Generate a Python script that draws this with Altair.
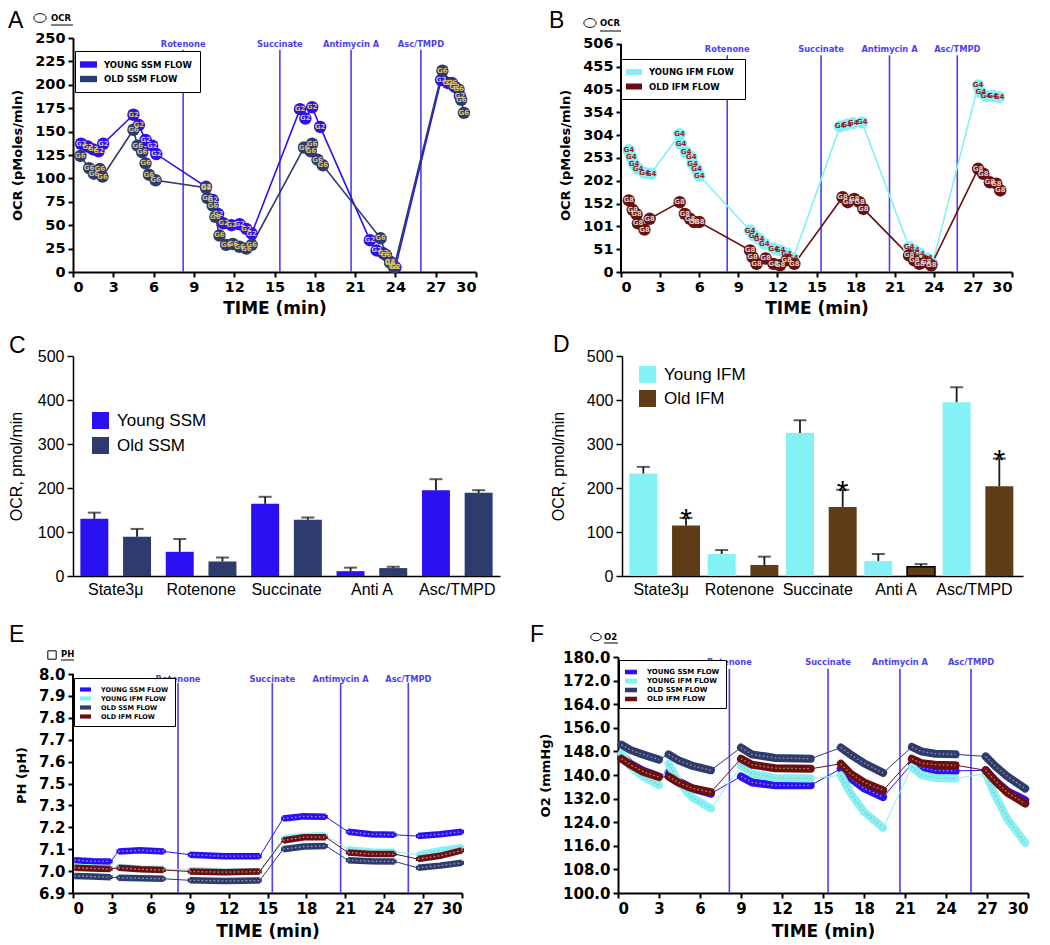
import altair as alt
import pandas as pd

SANS = "Liberation Sans"
BOLD = "DejaVu Sans"

C_YS = "#2b10f2"
C_OS = "#2d3b6e"
C_YI = "#84f1f7"
C_OI = "#6b0f10"
C_OI_BAR = "#603b18"
C_INJ = "#4b3ff0"

RECT_A = "M-1.6,-0.6L1.6,-0.6L1.6,0.6L-1.6,0.6Z"
RECT_E = "M-1,-0.38L1,-0.38L1,0.38L-1,0.38Z"
ELLIPSE = "M-1,0A1,0.72,0,1,1,1,0A1,0.72,0,1,1,-1,0Z"

INJ_NAMES = ["Rotenone", "Succinate", "Antimycin A", "Asc/TMPD"]
TIME_TICKS = [0, 3, 6, 9, 12, 15, 18, 21, 24, 27, 30]

# ---------------- Panel A : OCR, SSM ----------------
A_NAMES = ["YOUNG SSM FLOW", "OLD SSM FLOW"]
A_TAGS = ["G2", "G6"]
A_T_YOUNG = [0.6, 1.1, 1.5, 1.9, 2.25, 4.5, 4.9, 5.4, 5.9, 6.2,
             9.9, 10.4, 10.8, 11.2, 11.8, 12.4, 12.9, 13.3,
             16.9, 17.3, 17.8, 18.4, 22.1, 22.6, 23.1, 23.6, 24.0,
             27.4, 27.9, 28.4, 28.8]
A_YOUNG = [137, 134, 131, 129, 137, 168, 157, 141, 135, 126,
           91, 77, 62, 52, 50, 51, 46, 41,
           174, 164, 176, 155, 34, 23, 20, 11, 5,
           205, 202, 198, 188]
A_T_OLD = [0.55, 1.2, 1.55, 2.0, 2.2, 4.5, 4.8, 5.15, 5.4, 5.65, 6.15,
           9.9, 10.0, 10.4, 10.6, 10.9, 11.4, 11.9, 12.4, 12.9, 13.3,
           17.2, 17.7, 17.8, 18.2, 18.6, 22.9, 23.3, 23.6, 23.9,
           27.5, 28.2, 28.7, 28.9, 29.1]
A_OLD = [124, 111, 105, 110, 102, 152, 135, 128, 116, 104, 98,
         90, 79, 71, 59, 39, 29, 30, 27, 25, 29,
         133, 129, 137, 120, 114, 36, 18, 10, 5,
         215, 202, 195, 184, 170]
A_INJ_T = [8.2, 15.4, 20.7, 25.9]
A_YTICKS = [0, 25, 50, 75, 100, 125, 150, 175, 200, 225, 250]

# ---------------- Panel B : OCR, IFM ----------------
B_NAMES = ["YOUNG  IFM FLOW", "OLD IFM FLOW"]
B_TAGS = ["G4", "G8"]
B_T_YOUNG = [0.6, 0.8, 1.0, 1.3, 1.8, 2.3, 4.5, 4.6, 5.0, 5.4, 5.5, 5.8, 6.0,
             9.9, 10.2, 10.6, 11.0, 11.7, 12.2, 12.7, 13.2,
             16.8, 17.3, 17.8, 18.5, 22.1, 22.5, 22.9, 23.5, 23.9,
             27.4, 27.6, 28.0, 28.5, 29.0]
B_YOUNG = [270, 255, 240, 229, 220, 218, 306, 284, 266, 255, 240, 229, 214,
           92, 81, 74, 63, 52, 48, 41, 30,
           323, 327, 330, 332, 55, 48, 41, 30, 18,
           414, 399, 391, 391, 388]
B_T_OLD = [0.6, 0.9, 1.2, 1.3, 1.8, 2.2, 4.5, 4.9, 5.3, 5.6, 6.0,
           9.9, 10.1, 10.4, 11.1, 11.7, 12.2, 12.7, 13.3,
           17.0, 17.4, 17.9, 18.3, 18.6, 22.1, 22.5, 22.9, 23.4, 23.8,
           27.4, 27.8, 28.3, 28.8, 29.1]
B_OLD = [159, 138, 128, 108, 94, 118, 155, 129, 118, 111, 111,
         48, 33, 18, 30, 18, 15, 26, 18,
         166, 155, 162, 155, 140, 37, 26, 18, 22, 15,
         229, 218, 199, 196, 181]
B_INJ_T = [8.15, 15.35, 20.6, 25.8]
B_YTICKS = [0, 51, 101, 152, 202, 253, 304, 354, 405, 455, 506]

# ---------------- Panels C, D : bar summaries ----------------
CATS = ["State3μ", "Rotenone", "Succinate", "Anti A", "Asc/TMPD"]
C_NAMES = ["Young SSM", "Old SSM"]
C_YOUNG = [130, 55, 164, 11, 195]
C_YOUNG_ERR = [14, 29, 16, 8, 25]
C_OLD = [89, 33, 128, 18, 189]
C_OLD_ERR = [18, 9, 5, 3, 6]
C_STARS = [0, 0, 0, 0, 0]

D_NAMES = ["Young IFM", "Old IFM"]
D_YOUNG = [233, 50, 325, 34, 395]
D_YOUNG_ERR = [15, 9, 29, 16, 34]
D_OLD = [115, 25, 157, 21, 204]
D_OLD_ERR = [17, 19, 39, 6, 63]
D_STARS = [1, 0, 1, 0, 1]
BAR_YTICKS = [0, 100, 200, 300, 400, 500]

# ---------------- Panels E, F : pH and O2 ----------------
FLOW_NAMES = ["YOUNG SSM FLOW", "YOUNG IFM FLOW", "OLD SSM FLOW", "OLD IFM FLOW"]
FLOW_COLORS = [C_YS, C_YI, C_OS, C_OI]

E_CYCLE_T = [[0.1, 1.5, 2.9], [3.5, 5.2, 7.0], [9.0, 11.7, 14.4],
             [16.2, 17.8, 19.5], [21.2, 23.0, 24.8], [26.6, 28.3, 30.0]]
E_YS = [[7.05, 7.045, 7.044], [7.09, 7.095, 7.09], [7.075, 7.068, 7.068],
        [7.24, 7.25, 7.248], [7.18, 7.168, 7.166], [7.16, 7.168, 7.18]]
E_YI = [[7.02, 7.015, 7.012], [7.02, 7.012, 7.01], [7.005, 6.998, 7.0],
        [7.15, 7.16, 7.165], [7.1, 7.09, 7.088], [7.075, 7.095, 7.11]]
E_OS = [[6.978, 6.975, 6.972], [6.97, 6.967, 6.965], [6.958, 6.955, 6.957],
        [7.1, 7.112, 7.115], [7.05, 7.045, 7.044], [7.015, 7.025, 7.038]]
E_OI = [[7.015, 7.012, 7.01], [7.015, 7.008, 7.005], [6.998, 6.995, 6.998],
        [7.14, 7.155, 7.155], [7.085, 7.078, 7.078], [7.055, 7.07, 7.095]]
E_INJ_T = [8.1, 15.37, 20.64, 25.86]
E_YTICKS = [6.9, 7.0, 7.1, 7.2, 7.3, 7.4, 7.5, 7.6, 7.7, 7.8, 7.9]
E_YLABELS = ["6.9", "7.0", "7.1", "7.2", "7.3", "7.5", "7.6", "7.7", "7.8", "7.9", "8.0"]

F_CYCLE_T = [[0.25, 0.9, 1.8, 3.0], [3.7, 4.4, 5.4, 6.8], [9.0, 9.8, 11.5, 14.1],
             [16.3, 17.0, 18.0, 19.4], [21.5, 22.2, 23.2, 24.7], [26.9, 27.6, 28.5, 29.8]]
F_YS = [[146.7, 143.8, 141.5, 139.5], [141, 138, 135.5, 133.7], [139.5, 137.5, 136.5, 136.5],
        [142.1, 139, 135.5, 132.5], [143.8, 142.5, 141.5, 141.4], [141.6, 138, 134.5, 131.4]]
F_YI = [[147.2, 143, 139.5, 136.5], [143.8, 138, 132.5, 128.6], [143.3, 140.5, 139, 138.8],
        [139.9, 134, 127.5, 122.1], [142.7, 140, 139, 138.8], [140.5, 133, 125, 117]]
F_OS = [[150.3, 148.5, 147, 145.2], [147, 145, 143.2, 141.6], [149.3, 147, 145.8, 145.5],
        [149.3, 147, 144, 140.7], [149.5, 148, 147.2, 147], [146.3, 143, 139.5, 135.4]]
F_OI = [[145.5, 143.5, 141.2, 139.3], [139.5, 137.5, 135.5, 134.2], [145.5, 143.5, 142.3, 142.1],
        [143.8, 140.5, 137.5, 134.8], [145.5, 144, 143.5, 143.3], [141.6, 138, 134, 130.3]]
F_INJ_T = [8.15, 15.37, 20.63, 25.83]
F_YTICKS = [100, 108, 116, 124, 132, 140, 148, 156, 164, 172, 180]


def bold_axis(title, values, title_size, domain=True, label_expr=None,
              title_pad=6, label_size=14.5):
    kw = dict(title=title, values=values, grid=False,
              labelFont=BOLD, labelFontWeight="bold", labelFontSize=label_size, labelColor="black",
              titleFont=BOLD, titleFontWeight="bold", titleFontSize=title_size, titleColor="black",
              domain=domain, domainColor="black", domainWidth=2,
              tickColor="black", tickWidth=2, tickSize=5, labelPadding=3, titlePadding=title_pad)
    if label_expr:
        kw["labelExpr"] = label_expr
    return alt.Axis(**kw)


def inj_layers(times, y0, ytop, ylab, fs, ax, ay, sx, sy):
    df = pd.DataFrame({"t": times, "name": INJ_NAMES})
    xs = alt.X("t:Q", axis=ax, scale=sx)
    rule = alt.Chart(df).mark_rule(color=C_INJ, strokeWidth=1.6).encode(
        x=xs, y=alt.YDatum(y0, axis=ay, scale=sy), y2=alt.Y2Datum(ytop))
    lab = alt.Chart(df).mark_text(color=C_INJ, font=BOLD, fontWeight="bold", fontSize=fs,
                                  baseline="middle").encode(
        x=xs, y=alt.YDatum(ylab, axis=ay, scale=sy), text="name:N")
    return [rule, lab]


def axis_line(y0, ytop, ay, sy):
    return alt.Chart(pd.DataFrame({"k": [0]})).mark_rule(color="black", strokeWidth=2).encode(
        x=alt.value(0), y=alt.YDatum(y0, axis=ay, scale=sy), y2=alt.Y2Datum(ytop))


def deco(letter, lx, ly, shape=None, sx=0, sy=0, ssize=0, txt=None, tx=0, ty=0, uy=0, uw=0):
    b = alt.Chart(pd.DataFrame({"k": [0]}))
    out = [b.mark_text(text=letter, font=SANS, fontSize=23, align="left", baseline="alphabetic",
                       color="black").encode(x=alt.value(lx), y=alt.value(ly))]
    if shape:
        out.append(b.mark_point(shape=shape, filled=False, size=ssize, color="black",
                                strokeWidth=1, opacity=1).encode(x=alt.value(sx), y=alt.value(sy)))
        out.append(b.mark_text(text=txt, font=BOLD, fontWeight="bold", fontSize=8.5, align="left",
                               baseline="alphabetic", color="black").encode(x=alt.value(tx), y=alt.value(ty)))
        out.append(b.mark_rule(color="black", strokeWidth=1).encode(
            x=alt.value(tx), x2=alt.value(tx + uw), y=alt.value(uy)))
    return out


def small_legend(x, y, sym, size, fs, row_pad, pad):
    return alt.Legend(orient="none", legendX=x, legendY=y, title=None, strokeColor="black",
                      fillColor="white", padding=pad, symbolType=sym, symbolSize=size,
                      symbolStrokeWidth=0, symbolOpacity=1, labelFont=BOLD, labelFontWeight="bold",
                      labelFontSize=fs, labelColor="black", rowPadding=row_pad, labelOffset=10)


def marker_panel(names, colors, tags, tag_colors, ts, vs, yticks, ydom, ytitle, inj_t, inj_top,
                 inj_lab, legend, axis_top, width, height, decos):
    rows = []
    for n, tg, tt, vv in zip(names, tags, ts, vs):
        for t, v in zip(tt, vv):
            rows.append({"s": n, "tag": tg, "t": t, "v": v})
    df = pd.DataFrame(rows)
    cs = alt.Scale(domain=names, range=colors)
    ax = bold_axis("TIME (min)", TIME_TICKS, 17, title_pad=7)
    ay = bold_axis(ytitle, yticks, 13, domain=axis_top is None, title_pad=10)
    sx = alt.Scale(domain=[0, 30], nice=False, zero=False)
    sy = alt.Scale(domain=ydom, nice=False, zero=False)
    X = alt.X("t:Q", scale=sx, axis=ax)
    Y = alt.Y("v:Q", scale=sy, axis=ay)
    layers = [alt.Chart(df).mark_circle(size=1, opacity=1).encode(
        x=X, y=Y, color=alt.Color("s:N", scale=cs, legend=legend))]
    layers += inj_layers(inj_t, ydom[0], inj_top, inj_lab, 8.3, ax, ay, sx, sy)
    if axis_top is not None:
        layers.append(axis_line(ydom[0], axis_top, ay, sy))
    layers.append(alt.Chart(df).mark_line(strokeWidth=1.6).encode(
        x=X, y=Y, color=alt.Color("s:N", scale=cs, legend=None)))
    layers.append(alt.Chart(df).mark_circle(size=155, opacity=1).encode(
        x=X, y=Y, color=alt.Color("s:N", scale=cs, legend=None)))
    for n, tc in zip(names, tag_colors):
        layers.append(alt.Chart(df).transform_filter(alt.datum.s == n).mark_text(
            color=tc, font=BOLD, fontWeight="bold", fontSize=7).encode(x=X, y=Y, text="tag:N"))
    layers += decos
    return alt.layer(*layers).properties(width=width, height=height)


def flow_panel(cyc_t, vals, yticks, ydom, ytitle, label_expr, inj_t, inj_top, inj_lab, legend,
               axis_top, band_w, cap, shape, dot_color, width, height, decos):
    rows = []
    for n, vv in zip(FLOW_NAMES, vals):
        for ci, (tt, cv) in enumerate(zip(cyc_t, vv)):
            for t, v in zip(tt, cv):
                rows.append({"s": n, "c": ci, "t": t, "v": v})
    df = pd.DataFrame(rows)
    cs = alt.Scale(domain=FLOW_NAMES, range=FLOW_COLORS)
    ax = bold_axis("TIME (min)", TIME_TICKS, 17, title_pad=7, label_size=15)
    ay = bold_axis(ytitle, yticks, 13, domain=axis_top is None, title_pad=10,
                   label_expr=label_expr, label_size=15)
    sx = alt.Scale(domain=[0, 30], nice=False, zero=False)
    sy = alt.Scale(domain=ydom, nice=False, zero=False)
    X = alt.X("t:Q", scale=sx, axis=ax)
    Y = alt.Y("v:Q", scale=sy, axis=ay)
    layers = [alt.Chart(df).mark_point(filled=True, shape=shape, size=16, opacity=1).encode(
        x=X, y=Y, color=alt.Color("s:N", scale=cs, legend=legend))]
    layers += inj_layers(inj_t, ydom[0], inj_top, inj_lab, 8.3, ax, ay, sx, sy)
    if axis_top is not None:
        layers.append(axis_line(ydom[0], axis_top, ay, sy))
    for n in FLOW_NAMES:
        sub = alt.Chart(df).transform_filter(alt.datum.s == n)
        layers.append(sub.mark_line(strokeWidth=1).encode(
            x=X, y=Y, color=alt.Color("s:N", scale=cs, legend=None)))
        layers.append(sub.mark_line(strokeWidth=band_w, strokeCap=cap).encode(
            x=X, y=Y, detail="c:N", color=alt.Color("s:N", scale=cs, legend=None)))
        layers.append(sub.mark_line(strokeWidth=1.3, strokeDash=[1.5, 2.5], color=dot_color,
                                    opacity=0.85).encode(x=X, y=Y, detail="c:N"))
    layers += decos
    return alt.layer(*layers).properties(width=width, height=height)


def bar_panel(names, colors, young, yerr, old, oerr, stars, outline, legend, width, x_po,
              title_pad, decos):
    rows = []
    for i, cat in enumerate(CATS):
        rows.append({"cat": cat, "grp": "Young", "name": names[0], "val": young[i], "err": yerr[i],
                     "star": 0, "ol": 0})
        rows.append({"cat": cat, "grp": "Old", "name": names[1], "val": old[i], "err": oerr[i],
                     "star": stars[i], "ol": outline[i]})
    base = alt.Chart(pd.DataFrame(rows)).transform_calculate(top="datum.val + datum.err")
    axx = alt.Axis(title=None, labelAngle=0, ticks=False, domainColor="black", domainWidth=1.5,
                   labelFont=SANS, labelFontSize=16, labelColor="black", labelPadding=5, grid=False)
    axy = alt.Axis(title="OCR, pmol/min", values=BAR_YTICKS, grid=False, labelFont=SANS,
                   labelFontSize=16, labelColor="black", titleFont=SANS, titleFontSize=16,
                   titleFontWeight="normal", titleColor="black", domainColor="black",
                   domainWidth=1.5, tickColor="black", tickWidth=1.5, tickSize=6,
                   labelPadding=3, titlePadding=title_pad)
    X = alt.X("cat:N", sort=CATS, scale=alt.Scale(domain=CATS, paddingInner=0, paddingOuter=x_po, align=0),
              axis=axx)
    XO = alt.XOffset("grp:N", sort=["Young", "Old"],
                     scale=alt.Scale(domain=["Young", "Old"], paddingInner=0.345, paddingOuter=0.1725))
    sy = alt.Scale(domain=[0, 500], nice=False)
    bars = base.mark_bar().encode(
        x=X, xOffset=XO, y=alt.Y("val:Q", scale=sy, axis=axy),
        color=alt.Color("name:N", scale=alt.Scale(domain=names, range=colors), legend=legend),
        stroke=alt.condition(alt.datum.ol == 1, alt.value("black"), alt.value("transparent")),
        strokeWidth=alt.condition(alt.datum.ol == 1, alt.value(1.5), alt.value(0)))
    whisk = base.mark_rule(color="#1a1a1a", strokeWidth=1.8).encode(
        x=X, xOffset=XO, y=alt.Y("val:Q", scale=sy, axis=axy), y2="top:Q")
    cap = base.mark_tick(color="#1a1a1a", thickness=2, size=13).encode(
        x=X, xOffset=XO, y=alt.Y("top:Q", scale=sy, axis=axy))
    star = base.transform_filter(alt.datum.star == 1).mark_text(
        text="*", font=SANS, fontSize=30, baseline="alphabetic", dy=11, color="black").encode(
        x=X, xOffset=XO, y=alt.Y("top:Q", scale=sy, axis=axy))
    return alt.layer(bars, whisk, cap, star, *decos).properties(width=width, height=220)


# ---------------- build panels ----------------
panel_a = marker_panel(
    A_NAMES, [C_YS, C_OS], A_TAGS, ["#d8c070", "#d8c070"], [A_T_YOUNG, A_T_OLD], [A_YOUNG, A_OLD],
    A_YTICKS, [0, 250], "OCR (pMoles/mln)", A_INJ_T, 237.5, 243,
    small_legend(2, 13, RECT_A, 113, 8.5, 4.5, 8), None, 403, 234,
    deco("A", -65, -10, ELLIPSE, -33, -20, 150, "OCR", -22, -17, -13, 22))

panel_b = marker_panel(
    B_NAMES, [C_YI, C_OI], B_TAGS, ["#a01818", "#cfcfcf"], [B_T_YOUNG, B_T_OLD], [B_YOUNG, B_OLD],
    B_YTICKS, [0, 519.3], "OCR (pMoles/mln)", B_INJ_T, 481, 492,
    small_legend(0, 21, RECT_A, 100, 8.5, 4.5, 8), 506, 391, 234,
    deco("B", -72, -10, ELLIPSE, -31, -15, 150, "OCR", -21, -12, -7, 21))

panel_c = bar_panel(
    C_NAMES, [C_YS, C_OS], C_YOUNG, C_YOUNG_ERR, C_OLD, C_OLD_ERR, C_STARS, [0, 0, 0, 0, 0],
    alt.Legend(orient="none", legendX=19, legendY=56, title=None, symbolType="square", symbolSize=289,
               symbolStrokeWidth=0, labelFont=SANS, labelFontSize=17, labelColor="black",
               rowPadding=7, labelOffset=8, padding=0),
    427, 0, 13, deco("C", -64, -3))

panel_d = bar_panel(
    D_NAMES, [C_YI, C_OI_BAR], D_YOUNG, D_YOUNG_ERR, D_OLD, D_OLD_ERR, D_STARS, [0, 0, 0, 1, 0],
    alt.Legend(orient="none", legendX=17, legendY=10, title=None, symbolType="square", symbolSize=289,
               symbolStrokeWidth=0, labelFont=SANS, labelFontSize=17, labelColor="black",
               rowPadding=6, labelOffset=8, padding=0),
    401, 0.06, 20, deco("D", -69, -4))

E_LABEL_EXPR = "[" + ",".join("'%s'" % s for s in E_YLABELS) + "][round((datum.value - 6.9) * 10)]"

panel_e = flow_panel(
    E_CYCLE_T, [E_YS, E_YI, E_OS, E_OI], E_YTICKS, [6.9, 7.978], "PH (pH)", E_LABEL_EXPR,
    E_INJ_T, 7.86, 7.874, small_legend(1, 21, RECT_E, 121, 6.5, 0, 6), 7.9, 6.5, "butt", "square",
    "#b8b8c8", 389, 236, deco("E", -64, -15, "square", -21, -2, 70, "PH", -12, 0, 3, 13))

panel_f = flow_panel(
    F_CYCLE_T, [F_YS, F_YI, F_OS, F_OI], F_YTICKS, [100, 180], "O2 (mmHg)", "format(datum.value, '.1f')",
    F_INJ_T, 176, 178, small_legend(1, 3, RECT_E, 144, 7, 0, 6), None, 8, "round", "circle",
    "#c0a870", 410, 236, deco("F", -88, -15, ELLIPSE, -22, -20, 110, "O2", -14, -17, -14, 14))

res = dict(color="independent", x="independent", y="independent")
row1 = alt.hconcat(panel_a, panel_b, spacing=72).resolve_scale(**res)
row2 = alt.hconcat(panel_c, panel_d, spacing=50).resolve_scale(**res)
row3 = alt.hconcat(panel_e, panel_f, spacing=55).resolve_scale(**res)

top_rows = alt.vconcat(row1, row2, spacing=17).resolve_scale(**res)

chart = (alt.vconcat(top_rows, row3, spacing=27)
         .resolve_scale(**res)
         .properties(padding={"left": 0, "top": 2, "right": 0, "bottom": 0})
         .configure_view(stroke=None))

chart.save("out.html", embed_options={"renderer": "svg", "actions": False})
